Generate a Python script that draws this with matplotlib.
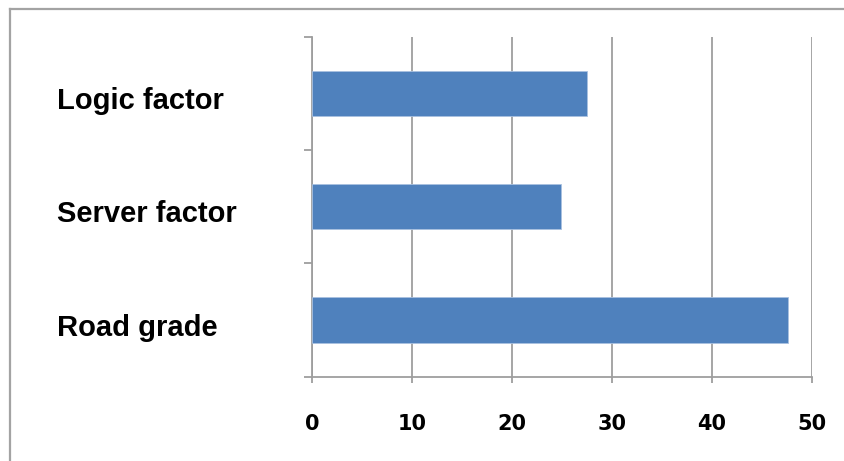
import matplotlib
matplotlib.use("Agg")
import matplotlib.pyplot as plt
from matplotlib.lines import Line2D
from matplotlib.transforms import ScaledTranslation
import numpy as np

# Factor names (bottom to top) and their values
categories = ["Road grade", "Server factor", "Logic factor"]
values = [47.6, 24.9, 27.5]
x_ticks = [0, 10, 20, 30, 40, 50]

bar_color = "#4F81BD"
grid_color = "#9e9e9e"

fig = plt.figure(figsize=(8.45, 4.61), dpi=100)
ax = fig.add_axes([312 / 845, 1 - 376.7 / 461, 500 / 845, 340 / 461])

y = np.arange(len(categories))
ax.barh(y, values, height=0.4, color=bar_color, edgecolor="#a9c1e0",
        linewidth=0.6, zorder=3)

ax.set_xlim(0, 50)
ax.set_ylim(-0.5, len(categories) - 0.5)

# Vertical gridlines
ax.set_xticks(x_ticks)
ax.set_xticklabels([str(t) for t in x_ticks])
ax.xaxis.grid(True, color=grid_color, linewidth=1.3, zorder=0)
ax.set_axisbelow(True)

# Category labels at bar centres, boundary tick marks between categories
ax.set_yticks(y)
ax.set_yticklabels(categories)
ax.set_yticks(np.arange(-0.5, len(categories), 1.0), minor=True)
ax.tick_params(axis="y", which="major", length=0, pad=183.6)
ax.tick_params(axis="y", which="minor", length=5.8, width=1.3,
               color=grid_color, direction="out")
label_shift = ScaledTranslation(0, -4.5 / 100, fig.dpi_scale_trans)
for lbl in ax.get_yticklabels():
    lbl.set_horizontalalignment("left")
    lbl.set_fontfamily("Liberation Sans")
    lbl.set_fontweight("bold")
    lbl.set_fontsize(21)
    lbl.set_color("black")
    lbl.set_transform(lbl.get_transform() + label_shift)

ax.tick_params(axis="x", which="major", length=4.5, width=1.3,
               color=grid_color, direction="out", pad=22)
for lbl in ax.get_xticklabels():
    lbl.set_fontfamily("DejaVu Sans")
    lbl.set_fontweight("bold")
    lbl.set_fontsize(15)
    lbl.set_color("black")

for side in ("top", "right"):
    ax.spines[side].set_visible(False)
for side in ("left", "bottom"):
    ax.spines[side].set_color(grid_color)
    ax.spines[side].set_linewidth(1.3)

# Outer chart frame (top and left edges)
fig.add_artist(Line2D([10 / 845, 1.0], [1 - 9.5 / 461, 1 - 9.5 / 461],
                      color="#a3a3a3", linewidth=1.6))
fig.add_artist(Line2D([10.5 / 845, 10.5 / 845], [0.0, 1 - 9.5 / 461],
                      color="#a3a3a3", linewidth=1.6))

fig.savefig("out.png", dpi=100)
